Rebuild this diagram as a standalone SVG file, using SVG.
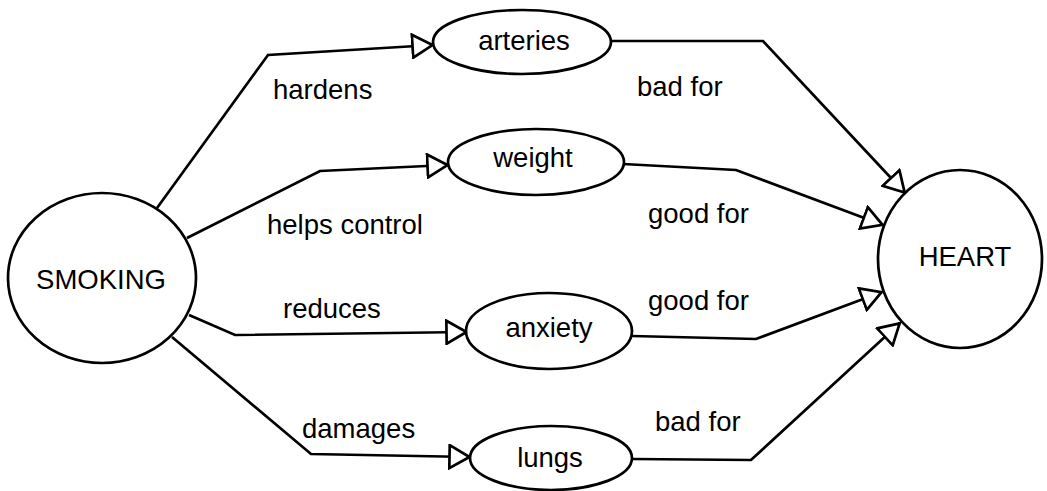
<svg xmlns="http://www.w3.org/2000/svg" width="1047" height="491" viewBox="0 0 1047 491">
<style>
.n{fill:#fff;stroke:#000;stroke-width:2.7}
.c{fill:none;stroke:#000;stroke-width:2.7;stroke-linejoin:miter}
text{font-family:"Liberation Sans",Arial,sans-serif;font-size:27.5px;fill:#000}
.m{text-anchor:middle}
</style>
<defs>
<marker id="ah" markerUnits="userSpaceOnUse" viewBox="0 0 23 26" refX="22" refY="13" markerWidth="23" markerHeight="26" orient="auto">
<path d="M1.5,1.5 L21.5,13 L1.5,24.5 Z" fill="#fff" stroke="#000" stroke-width="2.7"/>
</marker>
</defs>
<rect width="1047" height="491" fill="#fff"/>
<g id="connectors">
<polyline class="c" points="157,208 268,55 433,45" marker-end="url(#ah)"/>
<polyline class="c" points="187,238 320,171 448,165" marker-end="url(#ah)"/>
<polyline class="c" points="189,315 235,335 467,332" marker-end="url(#ah)"/>
<polyline class="c" points="172,337 311,454 470,457" marker-end="url(#ah)"/>
<polyline class="c" points="612,41 763,41 905,193" marker-end="url(#ah)"/>
<polyline class="c" points="623,164 736,170 883,225" marker-end="url(#ah)"/>
<polyline class="c" points="632,336 756,339 882,292" marker-end="url(#ah)"/>
<polyline class="c" points="632,459 751,460 900,323" marker-end="url(#ah)"/>
<text x="273" y="99">hardens</text>
<text x="267" y="234">helps control</text>
<text x="283" y="318">reduces</text>
<text x="302" y="438">damages</text>
<text x="637" y="96">bad for</text>
<text x="648" y="223">good for</text>
<text x="648" y="310">good for</text>
<text x="655" y="431">bad for</text>
</g>
<g id="smoking">
<ellipse class="n" cx="102" cy="278" rx="94" ry="85"/>
<text class="m" x="101" y="289">SMOKING</text>
</g>
<g id="heart">
<ellipse class="n" cx="960" cy="259" rx="82" ry="89"/>
<text class="m" x="965" y="266">HEART</text>
</g>
<g id="arteries">
<ellipse class="n" cx="522" cy="42" rx="89" ry="32"/>
<text class="m" x="524" y="50">arteries</text>
</g>
<g id="weight">
<ellipse class="n" cx="536" cy="162" rx="88" ry="33"/>
<text class="m" x="533" y="167">weight</text>
</g>
<g id="anxiety">
<ellipse class="n" cx="549" cy="331" rx="83" ry="38"/>
<text class="m" x="549" y="337">anxiety</text>
</g>
<g id="lungs">
<ellipse class="n" cx="551" cy="458" rx="81" ry="32"/>
<text class="m" x="550" y="467">lungs</text>
</g>
</svg>
